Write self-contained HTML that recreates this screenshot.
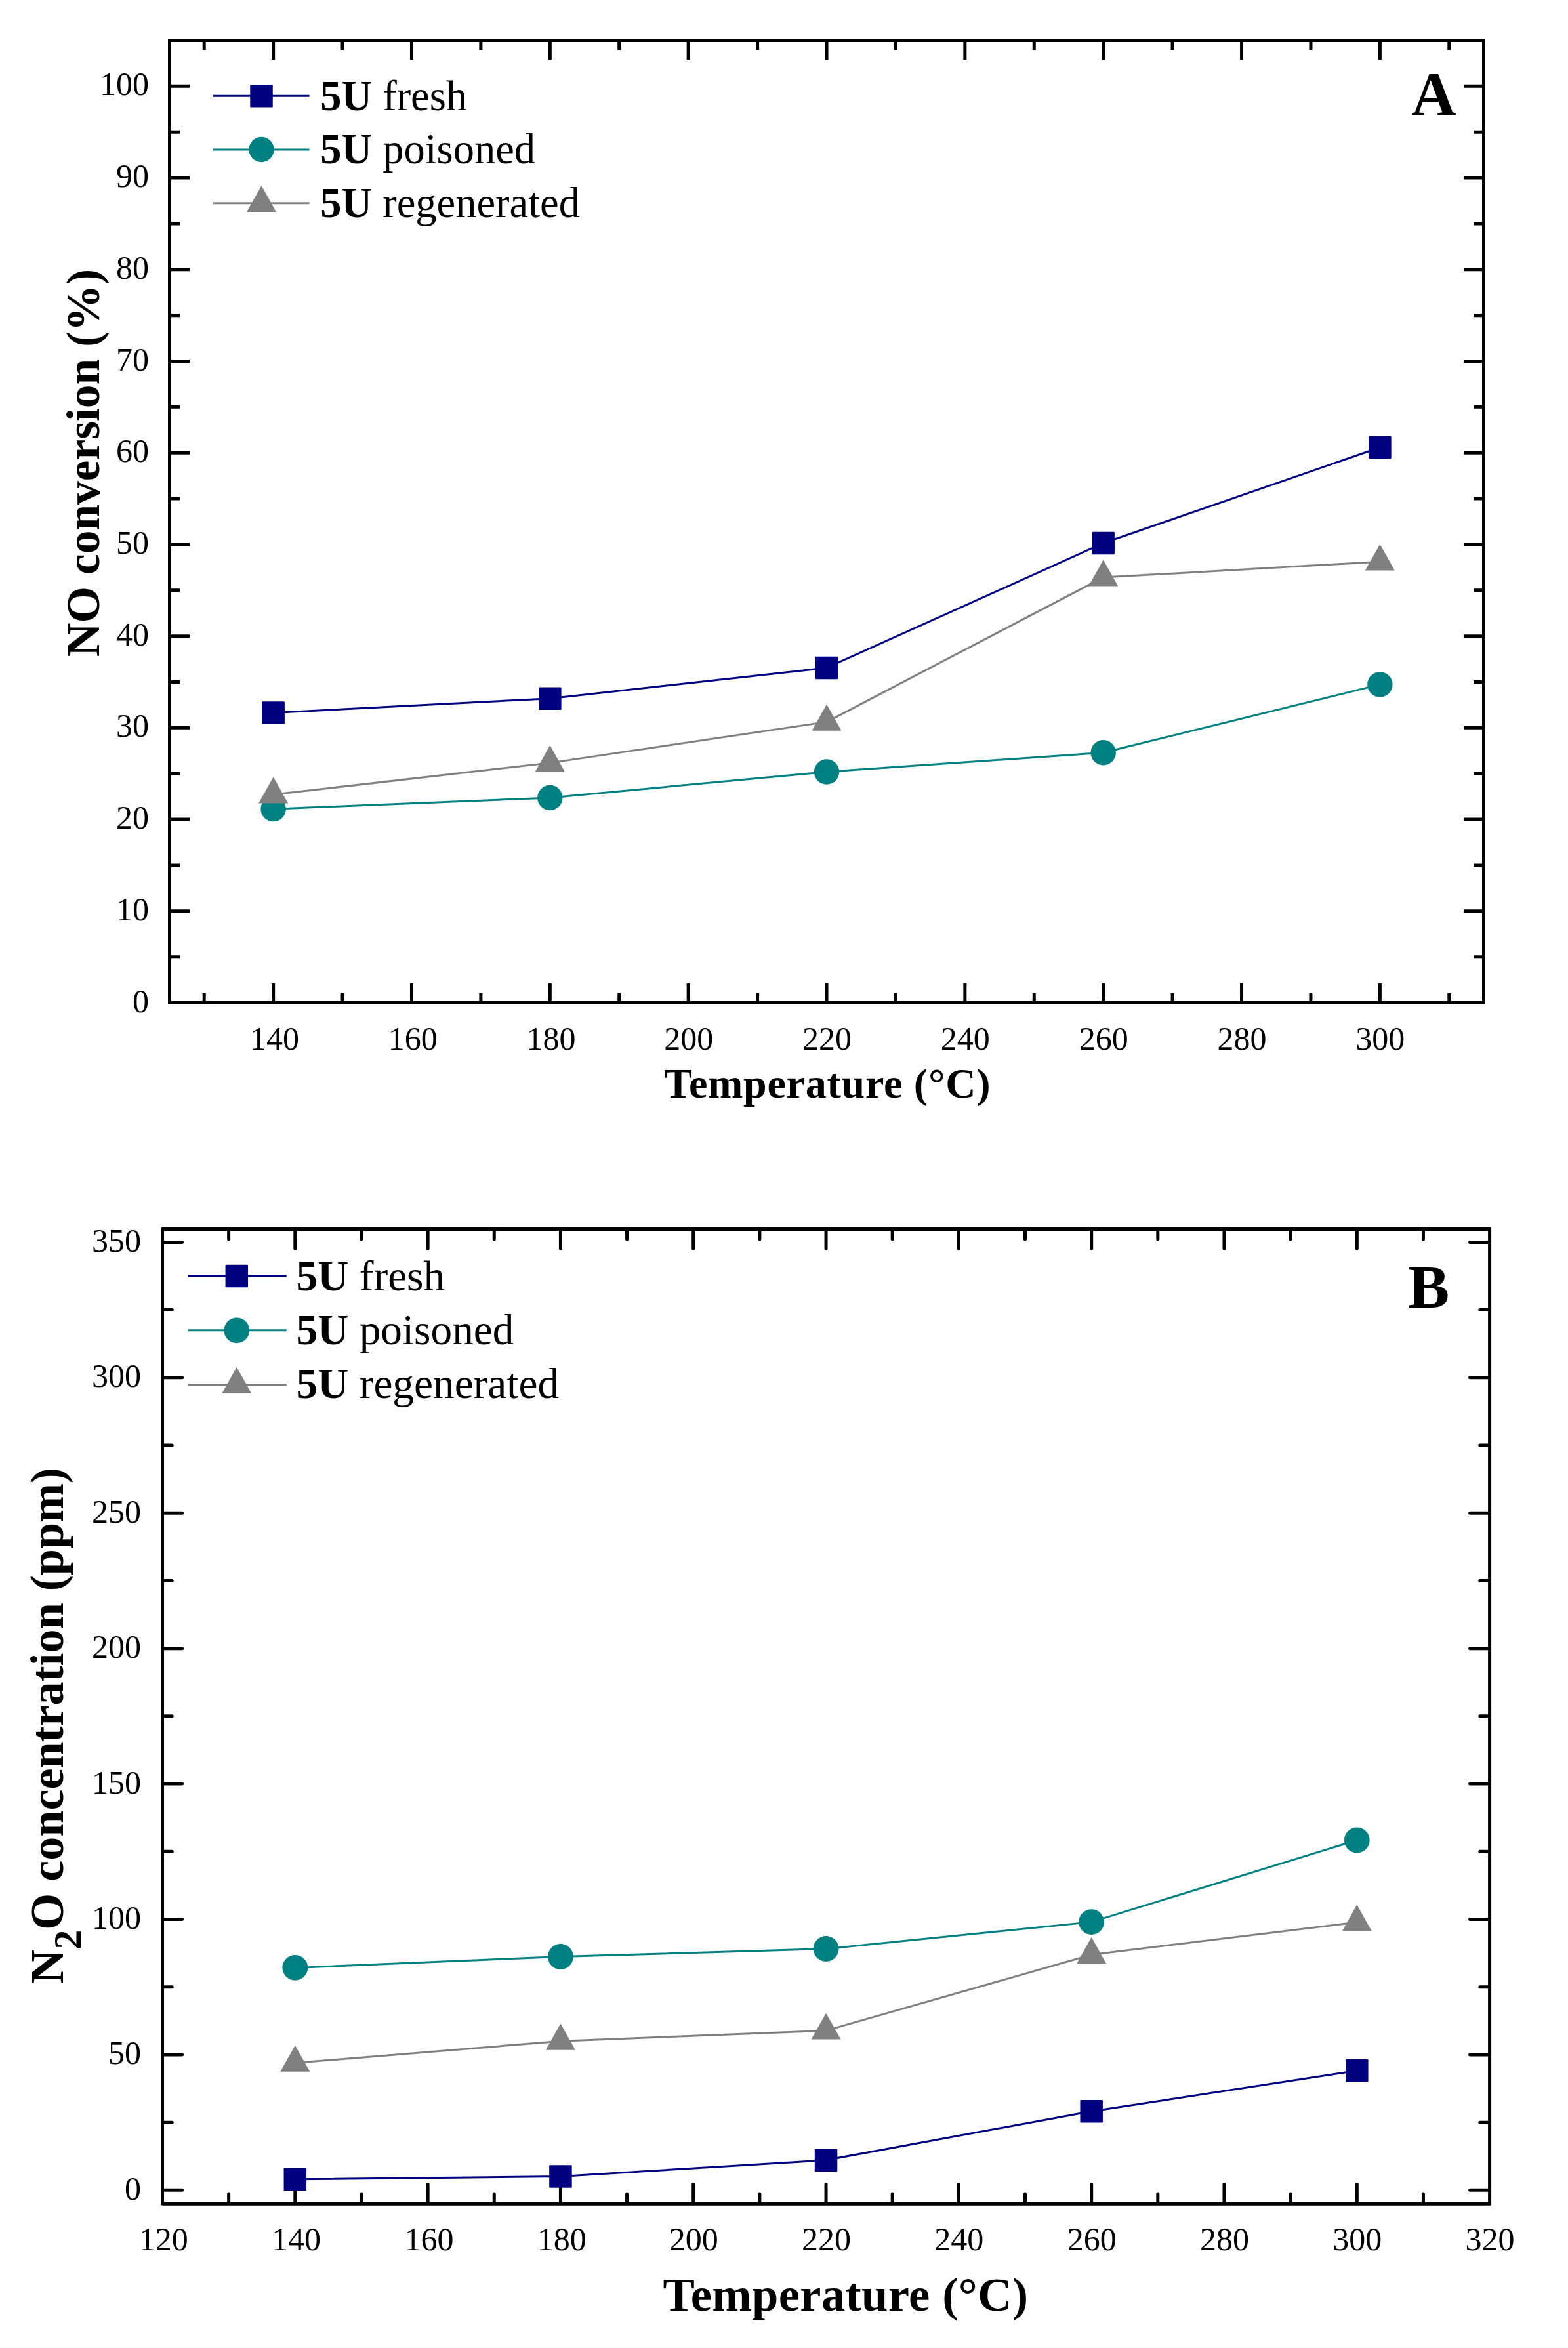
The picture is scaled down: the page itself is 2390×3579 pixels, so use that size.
<!DOCTYPE html>
<html lang="en"><head><meta charset="utf-8"><title>NO conversion and N2O concentration</title>
<style>html,body{margin:0;padding:0;background:#fff}body{width:2390px;height:3579px;overflow:hidden}svg{display:block}</style>
</head><body>
<svg width="2390" height="3579" viewBox="0 0 2390 3579">
<rect width="2390" height="3579" fill="#fff"/>
<path d="M416.63 1528.5V1498.9M416.63 61.5V91.1M627.47 1528.5V1498.9M627.47 61.5V91.1M838.32 1528.5V1498.9M838.32 61.5V91.1M1049.16 1528.5V1498.9M1049.16 61.5V91.1M1260 1528.5V1498.9M1260 61.5V91.1M1470.84 1528.5V1498.9M1470.84 61.5V91.1M1681.68 1528.5V1498.9M1681.68 61.5V91.1M1892.53 1528.5V1498.9M1892.53 61.5V91.1M2103.37 1528.5V1498.9M2103.37 61.5V91.1M311.21 1528.5V1513.9M311.21 61.5V76.1M522.05 1528.5V1513.9M522.05 61.5V76.1M732.89 1528.5V1513.9M732.89 61.5V76.1M943.74 1528.5V1513.9M943.74 61.5V76.1M1154.58 1528.5V1513.9M1154.58 61.5V76.1M1365.42 1528.5V1513.9M1365.42 61.5V76.1M1576.26 1528.5V1513.9M1576.26 61.5V76.1M1787.11 1528.5V1513.9M1787.11 61.5V76.1M1997.95 1528.5V1513.9M1997.95 61.5V76.1M2208.79 1528.5V1513.9M2208.79 61.5V76.1M258.5 1388.79H289M2261.5 1388.79H2231M258.5 1249.07H289M2261.5 1249.07H2231M258.5 1109.36H289M2261.5 1109.36H2231M258.5 969.64H289M2261.5 969.64H2231M258.5 829.93H289M2261.5 829.93H2231M258.5 690.21H289M2261.5 690.21H2231M258.5 550.5H289M2261.5 550.5H2231M258.5 410.79H289M2261.5 410.79H2231M258.5 271.07H289M2261.5 271.07H2231M258.5 131.36H289M2261.5 131.36H2231M258.5 1458.64H274M2261.5 1458.64H2246M258.5 1318.93H274M2261.5 1318.93H2246M258.5 1179.21H274M2261.5 1179.21H2246M258.5 1039.5H274M2261.5 1039.5H2246M258.5 899.79H274M2261.5 899.79H2246M258.5 760.07H274M2261.5 760.07H2246M258.5 620.36H274M2261.5 620.36H2246M258.5 480.64H274M2261.5 480.64H2246M258.5 340.93H274M2261.5 340.93H2246M258.5 201.21H274M2261.5 201.21H2246M258.5 61.5H274M2261.5 61.5H2246" fill="none" stroke="#000" stroke-width="5" stroke-linecap="butt"/>
<rect x="258.5" y="61.5" width="2003" height="1467" fill="none" stroke="#000" stroke-width="5" stroke-linejoin="miter"/>
<path d="M416.63 1086.58 L838.32 1064.65 L1260 1017.98 L1681.68 827.97 L2103.37 681.97" fill="none" stroke="#000080" stroke-width="3"/>
<rect x="399.38" y="1069.33" width="34.5" height="34.5" rx="1.2" fill="#000080"/>
<rect x="821.07" y="1047.4" width="34.5" height="34.5" rx="1.2" fill="#000080"/>
<rect x="1242.75" y="1000.73" width="34.5" height="34.5" rx="1.2" fill="#000080"/>
<rect x="1664.43" y="810.72" width="34.5" height="34.5" rx="1.2" fill="#000080"/>
<rect x="2086.12" y="664.72" width="34.5" height="34.5" rx="1.2" fill="#000080"/>
<path d="M416.63 1233.14 L838.32 1215.96 L1260 1176.56 L1681.68 1147.22 L2103.37 1043.41" fill="none" stroke="#008080" stroke-width="3"/>
<circle cx="416.63" cy="1233.14" r="19.2" fill="#008080"/>
<circle cx="838.32" cy="1215.96" r="19.2" fill="#008080"/>
<circle cx="1260" cy="1176.56" r="19.2" fill="#008080"/>
<circle cx="1681.68" cy="1147.22" r="19.2" fill="#008080"/>
<circle cx="2103.37" cy="1043.41" r="19.2" fill="#008080"/>
<path d="M416.63 1211.07 L838.32 1162.87 L1260 1100.42 L1681.68 880.09 L2103.37 856.19" fill="none" stroke="#808080" stroke-width="3"/>
<path d="M416.63 1184.27L439.13 1224.47H394.13Z" fill="#808080"/>
<path d="M838.32 1136.07L860.82 1176.27H815.82Z" fill="#808080"/>
<path d="M1260 1073.62L1282.5 1113.82H1237.5Z" fill="#808080"/>
<path d="M1681.68 853.29L1704.18 893.49H1659.18Z" fill="#808080"/>
<path d="M2103.37 829.39L2125.87 869.59H2080.87Z" fill="#808080"/>
<g font-family="Liberation Serif, Times New Roman, serif" font-size="50" fill="#000" text-anchor="middle">
<text x="418.43" y="1599.5">140</text>
<text x="629.27" y="1599.5">160</text>
<text x="840.12" y="1599.5">180</text>
<text x="1049.66" y="1599.5">200</text>
<text x="1260.5" y="1599.5">220</text>
<text x="1471.34" y="1599.5">240</text>
<text x="1682.18" y="1599.5">260</text>
<text x="1893.03" y="1599.5">280</text>
<text x="2103.87" y="1599.5">300</text>
</g>
<g font-family="Liberation Serif, Times New Roman, serif" font-size="50" fill="#000" text-anchor="end">
<text x="227" y="1542.5">0</text>
<text x="227" y="1402.79">10</text>
<text x="227" y="1263.07">20</text>
<text x="227" y="1123.36">30</text>
<text x="227" y="983.64">40</text>
<text x="227" y="843.93">50</text>
<text x="227" y="704.21">60</text>
<text x="227" y="564.5">70</text>
<text x="227" y="424.79">80</text>
<text x="227" y="285.07">90</text>
<text x="227" y="145.36">100</text>
</g>
<path d="M325 146.3H471.5" stroke="#000080" stroke-width="3" fill="none"/>
<rect x="381.25" y="129.05" width="34.5" height="34.5" rx="1.2" fill="#000080"/>
<text x="488.2" y="167.7" font-family="Liberation Serif, Times New Roman, serif" font-size="64.5" fill="#000"><tspan font-weight="bold">5U</tspan> fresh</text>
<path d="M325 228H471.5" stroke="#008080" stroke-width="3" fill="none"/>
<circle cx="398.5" cy="228" r="19.2" fill="#008080"/>
<text x="488.2" y="249.2" font-family="Liberation Serif, Times New Roman, serif" font-size="64.5" fill="#000"><tspan font-weight="bold">5U</tspan> poisoned</text>
<path d="M325 309.7H471.5" stroke="#808080" stroke-width="3" fill="none"/>
<path d="M398.5 282.9L421 323.1H376Z" fill="#808080"/>
<text x="488.2" y="330.7" font-family="Liberation Serif, Times New Roman, serif" font-size="64.5" fill="#000"><tspan font-weight="bold">5U</tspan> regenerated</text>
<text x="2151" y="175.8" font-family="Liberation Serif, Times New Roman, serif" font-size="95" font-weight="bold" fill="#000">A</text>
<text x="1261.3" y="1672.7" font-family="Liberation Serif, Times New Roman, serif" font-size="64" font-weight="bold" text-anchor="middle" letter-spacing="0.75" fill="#000">Temperature (°C)</text>
<text transform="translate(150.5 705.5) rotate(-90)" font-family="Liberation Serif, Times New Roman, serif" font-size="71.4" font-weight="bold" text-anchor="middle" fill="#000">NO conversion (%)</text>
<path d="M449.81 3356.3V3329.5M449.81 1876.5V1903.3M652.12 3356.3V3329.5M652.12 1876.5V1903.3M854.43 3356.3V3329.5M854.43 1876.5V1903.3M1056.74 3356.3V3329.5M1056.74 1876.5V1903.3M1259.05 3356.3V3329.5M1259.05 1876.5V1903.3M1461.36 3356.3V3329.5M1461.36 1876.5V1903.3M1663.67 3356.3V3329.5M1663.67 1876.5V1903.3M1865.98 3356.3V3329.5M1865.98 1876.5V1903.3M2068.29 3356.3V3329.5M2068.29 1876.5V1903.3M348.65 3356.3V3344.1M348.65 1876.5V1888.7M550.96 3356.3V3344.1M550.96 1876.5V1888.7M753.27 3356.3V3344.1M753.27 1876.5V1888.7M955.58 3356.3V3344.1M955.58 1876.5V1888.7M1157.89 3356.3V3344.1M1157.89 1876.5V1888.7M1360.2 3356.3V3344.1M1360.2 1876.5V1888.7M1562.51 3356.3V3344.1M1562.51 1876.5V1888.7M1764.82 3356.3V3344.1M1764.82 1876.5V1888.7M1967.13 3356.3V3344.1M1967.13 1876.5V1888.7M2169.44 3356.3V3344.1M2169.44 1876.5V1888.7M250.5 3338.35H277.5M2267.6 3338.35H2240.6M250.5 3131.93H277.5M2267.6 3131.93H2240.6M250.5 2925.51H277.5M2267.6 2925.51H2240.6M250.5 2719.08H277.5M2267.6 2719.08H2240.6M250.5 2512.66H277.5M2267.6 2512.66H2240.6M250.5 2306.24H277.5M2267.6 2306.24H2240.6M250.5 2099.82H277.5M2267.6 2099.82H2240.6M250.5 1893.4H277.5M2267.6 1893.4H2240.6M250.5 3235.14H262.3M2267.6 3235.14H2255.8M250.5 3028.72H262.3M2267.6 3028.72H2255.8M250.5 2822.29H262.3M2267.6 2822.29H2255.8M250.5 2615.87H262.3M2267.6 2615.87H2255.8M250.5 2409.45H262.3M2267.6 2409.45H2255.8M250.5 2203.03H262.3M2267.6 2203.03H2255.8M250.5 1996.61H262.3M2267.6 1996.61H2255.8" fill="none" stroke="#000" stroke-width="5" stroke-linecap="round"/>
<rect x="247.5" y="1873.5" width="2023.1" height="1485.8" fill="none" stroke="#000" stroke-width="5" stroke-linejoin="round"/>
<path d="M449.81 3321.83 L854.43 3317.54 L1259.05 3292.65 L1663.67 3218.21 L2068.29 3156.28" fill="none" stroke="#000080" stroke-width="3"/>
<rect x="432.56" y="3304.58" width="34.5" height="34.5" rx="1.2" fill="#000080"/>
<rect x="837.18" y="3300.29" width="34.5" height="34.5" rx="1.2" fill="#000080"/>
<rect x="1241.8" y="3275.4" width="34.5" height="34.5" rx="1.2" fill="#000080"/>
<rect x="1646.42" y="3200.96" width="34.5" height="34.5" rx="1.2" fill="#000080"/>
<rect x="2051.04" y="3139.03" width="34.5" height="34.5" rx="1.2" fill="#000080"/>
<path d="M449.81 2999.4 L854.43 2982.48 L1259.05 2970.51 L1663.67 2929.63 L2068.29 2804.96" fill="none" stroke="#008080" stroke-width="3"/>
<circle cx="449.81" cy="2999.4" r="19.4" fill="#008080"/>
<circle cx="854.43" cy="2982.48" r="19.4" fill="#008080"/>
<circle cx="1259.05" cy="2970.51" r="19.4" fill="#008080"/>
<circle cx="1663.67" cy="2929.63" r="19.4" fill="#008080"/>
<circle cx="2068.29" cy="2804.96" r="19.4" fill="#008080"/>
<path d="M449.81 3144.44 L854.43 3111.28 L1259.05 3095.18 L1663.67 2979.59 L2068.29 2930.05" fill="none" stroke="#808080" stroke-width="3"/>
<path d="M449.81 3117.64L472.31 3157.84H427.31Z" fill="#808080"/>
<path d="M854.43 3084.48L876.93 3124.68H831.93Z" fill="#808080"/>
<path d="M1259.05 3068.38L1281.55 3108.58H1236.55Z" fill="#808080"/>
<path d="M1663.67 2952.79L1686.17 2992.99H1641.17Z" fill="#808080"/>
<path d="M2068.29 2903.25L2090.79 2943.45H2045.79Z" fill="#808080"/>
<g font-family="Liberation Serif, Times New Roman, serif" font-size="50" fill="#000" text-anchor="middle">
<text x="249.3" y="3430">120</text>
<text x="451.61" y="3430">140</text>
<text x="653.92" y="3430">160</text>
<text x="856.23" y="3430">180</text>
<text x="1057.24" y="3430">200</text>
<text x="1259.55" y="3430">220</text>
<text x="1461.86" y="3430">240</text>
<text x="1664.17" y="3430">260</text>
<text x="1866.48" y="3430">280</text>
<text x="2068.79" y="3430">300</text>
<text x="2271.1" y="3430">320</text>
</g>
<g font-family="Liberation Serif, Times New Roman, serif" font-size="50" fill="#000" text-anchor="end">
<text x="215" y="3352.85">0</text>
<text x="215" y="3146.43">50</text>
<text x="215" y="2940.01">100</text>
<text x="215" y="2733.58">150</text>
<text x="215" y="2527.16">200</text>
<text x="215" y="2320.74">250</text>
<text x="215" y="2114.32">300</text>
<text x="215" y="1907.9">350</text>
</g>
<path d="M286.5 1945H436.7" stroke="#000080" stroke-width="3" fill="none"/>
<rect x="343.55" y="1927.75" width="34.5" height="34.5" rx="1.2" fill="#000080"/>
<text x="451.5" y="1966.7" font-family="Liberation Serif, Times New Roman, serif" font-size="65.3" fill="#000"><tspan font-weight="bold">5U</tspan> fresh</text>
<path d="M286.5 2027.8H436.7" stroke="#008080" stroke-width="3" fill="none"/>
<circle cx="360.8" cy="2027.8" r="19.4" fill="#008080"/>
<text x="451.5" y="2049" font-family="Liberation Serif, Times New Roman, serif" font-size="65.3" fill="#000"><tspan font-weight="bold">5U</tspan> poisoned</text>
<path d="M286.5 2110.6H436.7" stroke="#808080" stroke-width="3" fill="none"/>
<path d="M360.8 2083.8L383.3 2124H338.3Z" fill="#808080"/>
<text x="451.5" y="2131.3" font-family="Liberation Serif, Times New Roman, serif" font-size="65.3" fill="#000"><tspan font-weight="bold">5U</tspan> regenerated</text>
<text x="2146.5" y="1992.5" font-family="Liberation Serif, Times New Roman, serif" font-size="94" font-weight="bold" fill="#000">B</text>
<text x="1289" y="3521.5" font-family="Liberation Serif, Times New Roman, serif" font-size="72.5" font-weight="bold" text-anchor="middle" letter-spacing="0.4" fill="#000">Temperature (°C)</text>
<text transform="translate(95.5 2630.3) rotate(-90)" font-family="Liberation Serif, Times New Roman, serif" font-size="72.1" font-weight="bold" text-anchor="middle" fill="#000">N<tspan font-size="59.5" dy="27">2</tspan><tspan dy="-27">O concentration (ppm)</tspan></text>
</svg></body></html>
